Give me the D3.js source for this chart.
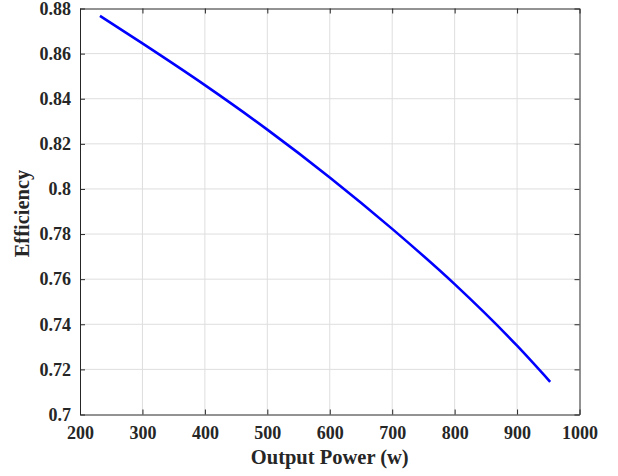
<!DOCTYPE html>
<html>
<head>
<meta charset="utf-8">
<script src="https://cdn.jsdelivr.net/npm/d3@7"></script>
<style>
  body { margin: 0; background: #fff; }
  text { font-family: "Liberation Serif", "Times New Roman", serif; font-weight: bold; fill: #262626; }
</style>
</head>
<body>
<script>
// values
var power = [232, 300, 400, 500, 600, 700, 800, 900, 953];
var efficiency = [0.8767, 0.8645, 0.8460, 0.8263, 0.8051, 0.7823, 0.7578, 0.7305, 0.7145];
var xTicks = [200, 300, 400, 500, 600, 700, 800, 900, 1000];
var yTicks = [0.7, 0.72, 0.74, 0.76, 0.78, 0.8, 0.82, 0.84, 0.86, 0.88];

function draw() {
    var w = 618, h = 476;
    var left = 80, right = 579.5, top = 8.5, bottom = 414.5;

    var svg = d3.select("body").append("svg")
        .attr("width", w)
        .attr("height", h);

    var x = d3.scaleLinear().domain([200, 1000]).range([left, right]);
    var y = d3.scaleLinear().domain([0.7, 0.88]).range([bottom, top]);

    // grid
    svg.append("g").selectAll("line").data(xTicks.slice(1, -1)).enter().append("line")
        .attr("x1", d => x(d)).attr("x2", d => x(d))
        .attr("y1", top).attr("y2", bottom)
        .attr("stroke", "#dedede").attr("stroke-width", 1);
    svg.append("g").selectAll("line").data(yTicks.slice(1, -1)).enter().append("line")
        .attr("y1", d => y(d)).attr("y2", d => y(d))
        .attr("x1", left).attr("x2", right)
        .attr("stroke", "#dedede").attr("stroke-width", 1);

    // axes, ticks point inward
    var fmt = d => String(+d.toFixed(2));
    var ax = [
        svg.append("g").attr("transform", "translate(0," + bottom + ")")
            .call(d3.axisBottom(x).tickValues(xTicks).tickSizeInner(-5).tickSizeOuter(0).tickPadding(12).tickFormat(d3.format("d"))),
        svg.append("g").attr("transform", "translate(0," + top + ")")
            .call(d3.axisTop(x).tickValues(xTicks).tickSizeInner(-5).tickSizeOuter(0).tickFormat("")),
        svg.append("g").attr("transform", "translate(" + left + ",0)")
            .call(d3.axisLeft(y).tickValues(yTicks).tickSizeInner(-5).tickSizeOuter(0).tickPadding(9).tickFormat(fmt)),
        svg.append("g").attr("transform", "translate(" + right + ",0)")
            .call(d3.axisRight(y).tickValues(yTicks).tickSizeInner(-5).tickSizeOuter(0).tickFormat(""))
    ];
    ax.forEach(function(g) {
        g.select(".domain").attr("stroke", "#262626").attr("stroke-width", 1);
        g.selectAll(".tick line").attr("stroke", "#262626");
        g.selectAll(".tick text").style("font-family", "Liberation Serif").style("font-weight", "bold")
            .style("font-size", "18px").attr("fill", "#262626");
    });

    // curve
    var line = d3.line()
        .x((d, i) => x(power[i]))
        .y(d => y(d))
        .curve(d3.curveMonotoneX);
    svg.append("path")
        .datum(efficiency)
        .attr("d", line)
        .attr("fill", "none")
        .attr("stroke", "#0000ff")
        .attr("stroke-width", 2.6);

    // labels
    svg.append("text")
        .attr("x", (left + right) / 2).attr("y", 464)
        .attr("text-anchor", "middle")
        .style("font-size", "20.5px")
        .text("Output Power (w)");
    svg.append("text")
        .attr("transform", "translate(29," + ((top + bottom) / 2 + 2) + ") rotate(-90)")
        .attr("text-anchor", "middle")
        .style("font-size", "20.5px")
        .text("Efficiency");
}
window.onload = draw;
</script>
</body>
</html>
